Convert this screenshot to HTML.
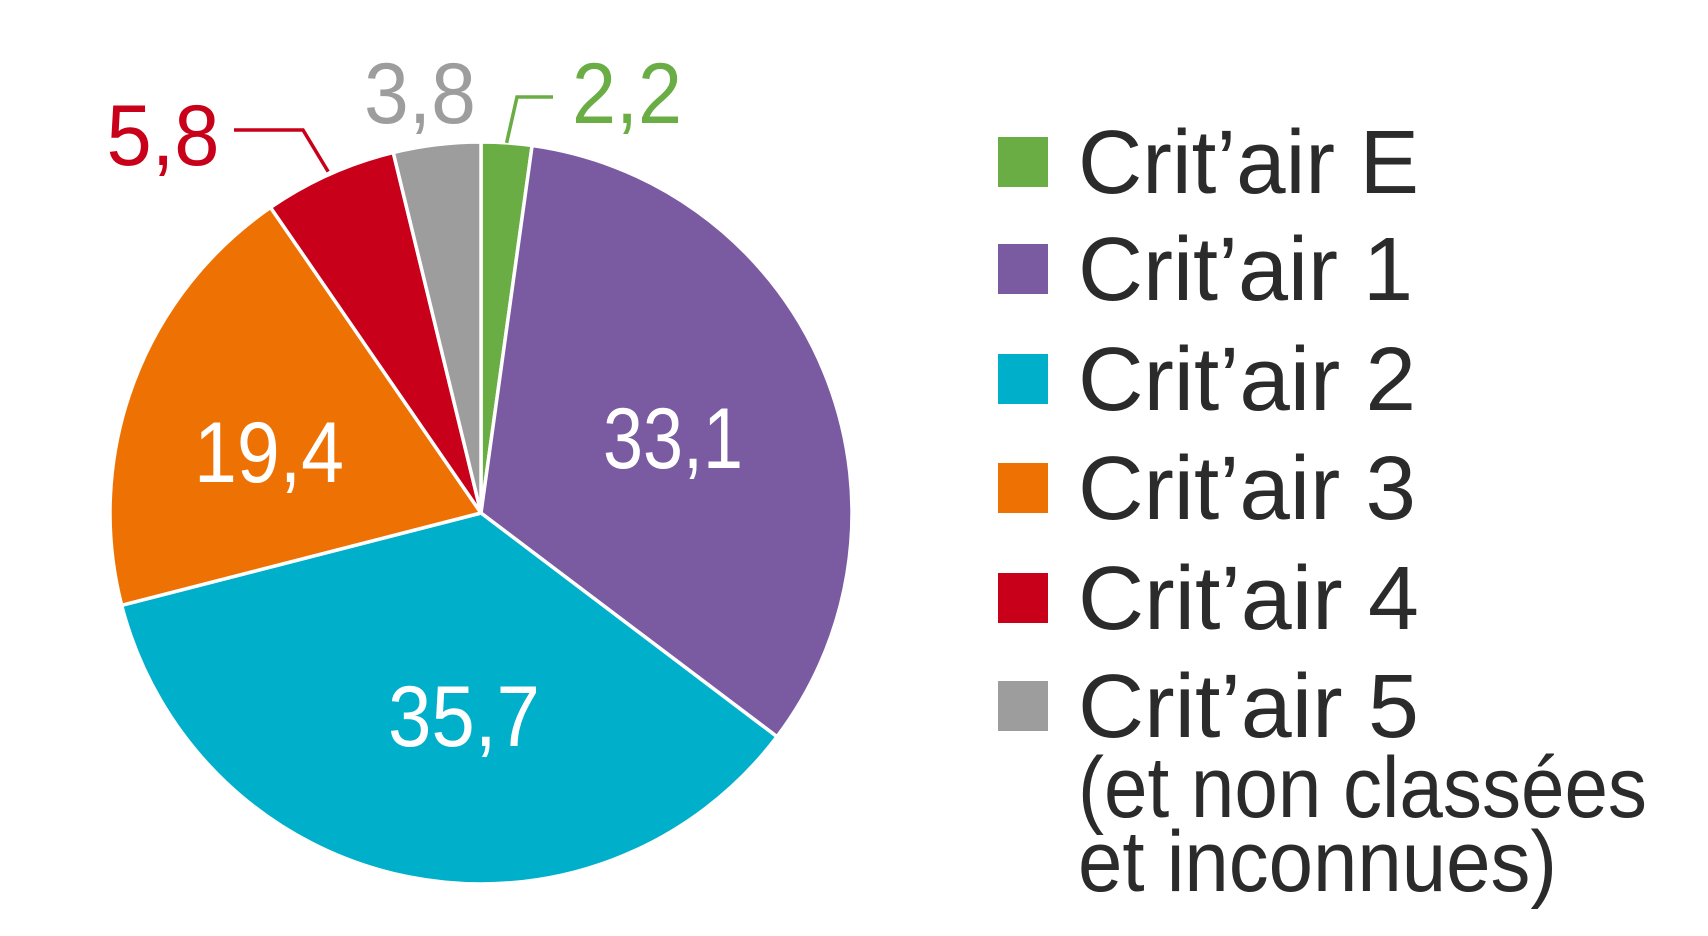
<!DOCTYPE html>
<html><head><meta charset="utf-8"><style>
html,body{margin:0;padding:0;background:#fff;}
svg{display:block;font-family:"Liberation Sans",sans-serif;}
</style></head><body>
<svg id="chart" width="1708" height="936" viewBox="0 0 1708 936" xmlns="http://www.w3.org/2000/svg">
<g id="slices"></g>
<g id="labels"></g>
<g id="legend"></g>
</svg>
<script>
const categories = ["Crit’air E","Crit’air 1","Crit’air 2","Crit’air 3","Crit’air 4","Crit’air 5"];
const values = [2.2, 33.1, 35.7, 19.4, 5.8, 3.8];
const colors = ["#6aad45","#7a5aa1","#00afc9","#ee7203","#c8001a","#9d9d9d"];

const NS = "http://www.w3.org/2000/svg";
const cx = 481, cy = 513, r = 371;
const total = values.reduce((a,b)=>a+b,0);
const slices = document.getElementById('slices');
let a0 = -Math.PI/2;
const angles = [];
values.forEach((v,i)=>{
  const a1 = a0 + v/total*2*Math.PI;
  angles.push([a0,a1]);
  const x0=cx+r*Math.cos(a0), y0=cy+r*Math.sin(a0), x1=cx+r*Math.cos(a1), y1=cy+r*Math.sin(a1);
  const large = (a1-a0)>Math.PI?1:0;
  const p = document.createElementNS(NS,'path');
  p.setAttribute('d',`M${cx},${cy} L${x0},${y0} A${r},${r} 0 ${large} 1 ${x1},${y1} Z`);
  p.setAttribute('fill',colors[i]);
  p.setAttribute('stroke','#fff');
  p.setAttribute('stroke-width','3.5');
  p.setAttribute('stroke-linejoin','round');
  
  
  slices.appendChild(p);
  a0 = a1;
});

// label layout (x center, baseline, width, color, outside?)
const labelLayout = [
  [627,123,110,colors[0]],
  [673,468,140,"#fff"],
  [464,746,152,"#fff"],
  [269,482,150,"#fff"],
  [163,165,113,colors[4]],
  [420,123,112,colors[5]]
];
const labels = document.getElementById('labels');
values.forEach((v,i)=>{
  const L = labelLayout[i];
  const t = document.createElementNS(NS,'text');
  t.setAttribute('x',L[0]); t.setAttribute('y',L[1]);
  t.setAttribute('text-anchor','middle');
  t.setAttribute('font-size','86');
  t.setAttribute('textLength',L[2]);
  t.setAttribute('lengthAdjust','spacingAndGlyphs');
  t.setAttribute('fill',L[3]);
  t.textContent = String(v).replace('.',',');
  
  
  labels.appendChild(t);
});
// leader lines
function leader(pts,col,name){
  const pl=document.createElementNS(NS,'polyline');
  pl.setAttribute('points',pts);pl.setAttribute('fill','none');
  pl.setAttribute('stroke',col);pl.setAttribute('stroke-width','3.5');
  
  
  labels.appendChild(pl);
}
const mE=(angles[0][0]+angles[0][1])/2, m4=(angles[4][0]+angles[4][1])/2;
leader(`${cx+r*Math.cos(mE)},${cy+r*Math.sin(mE)} 517,97 553,97`,colors[0],'leader-line-e');
leader(`${cx+(r+3)*Math.cos(m4)},${cy+(r+3)*Math.sin(m4)} 303,130 234,130`,colors[4],'leader-line-4');

// legend
const legend = document.getElementById('legend');
const baselines=[193,300,410,519,629,737];
const lens=[341,335,338,338,341,341];
categories.forEach((c,i)=>{
  const s=document.createElementNS(NS,'rect');
  s.setAttribute('x',998);s.setAttribute('y',baselines[i]-56);
  s.setAttribute('width',50);s.setAttribute('height',50);s.setAttribute('fill',colors[i]);
  
  
  legend.appendChild(s);
  const t=document.createElementNS(NS,'text');
  t.setAttribute('x',1078);t.setAttribute('y',baselines[i]);
  t.setAttribute('font-size','90');t.setAttribute('fill','#2b2b2b');
  t.setAttribute('textLength',lens[i]);t.setAttribute('lengthAdjust','spacingAndGlyphs');
  t.textContent=c;
  
  
  legend.appendChild(t);
});
[["(et non classées",817,569],["et inconnues)",891,479]].forEach((e,k)=>{
  const t=document.createElementNS(NS,'text');
  t.setAttribute('x',1078);t.setAttribute('y',e[1]);
  t.setAttribute('font-size','86');t.setAttribute('fill','#2b2b2b');
  t.setAttribute('textLength',e[2]);t.setAttribute('lengthAdjust','spacingAndGlyphs');
  t.textContent=e[0];
  
  
  legend.appendChild(t);
});
</script>
</body></html>
